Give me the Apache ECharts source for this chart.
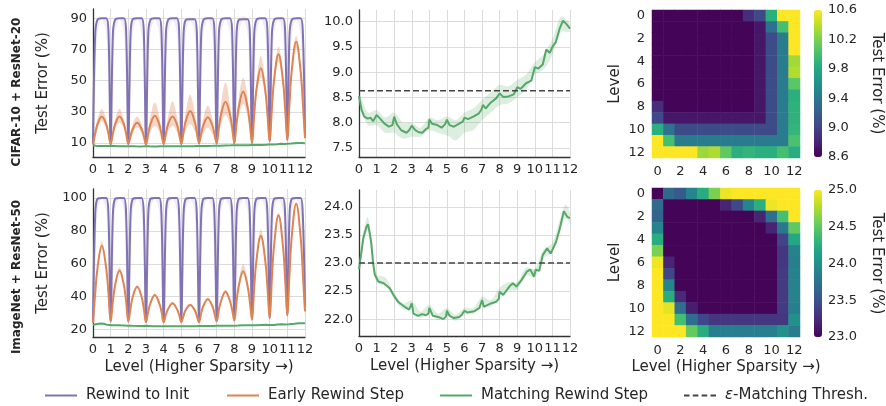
<!DOCTYPE html>
<html>
<head>
<meta charset="utf-8">
<script src="https://cdn.jsdelivr.net/npm/echarts@6/dist/echarts.min.js"></script>
<style>
html, body { margin: 0; padding: 0; background: #fff; }
#main { width: 886px; height: 406px; }
</style>
</head>
<body>
<div id="main"></div>
<script>
// position of the samples inside one level (fraction of a level)
var phase = [0, 0.125, 0.25, 0.5, 0.75, 0.875];
var bandPhase = [0, 0.25, 0.5, 0.75];

// ---- CIFAR-10 + ResNet-20 : one row per level ----
var cifarInit = [
  [10, 80, 89, 90, 90, 82],
  [9, 80, 89, 90, 90, 82],
  [9, 80, 89.5, 90, 90, 82],
  [9, 80, 89, 90, 90, 82],
  [9, 80, 89, 90, 90, 82],
  [9, 80, 89, 89.5, 89.5, 82],
  [9.5, 80, 89, 90, 90, 82],
  [9.5, 80, 89, 90, 90, 82],
  [9.5, 80, 89, 89.5, 89.5, 82],
  [10, 80, 89, 90, 90, 82],
  [11, 80, 89, 90, 90, 82],
  [12, 80, 89, 90, 90, 82]
];
var cifarInitEnd = 15;
var cifarInitLo = [
  [9.5, 45, 80, 89.5, 80, 45], [8.5, 45, 80, 89.5, 80, 45], [8.5, 45, 80, 89.5, 80, 45],
  [8.5, 45, 80, 89.5, 80, 45], [8.5, 45, 80, 89.5, 80, 45], [8.5, 45, 80, 89, 80, 45],
  [9, 45, 80, 89.5, 80, 45], [9, 45, 80, 89.5, 80, 45], [9, 45, 80, 89, 80, 45],
  [9.5, 45, 80, 89.5, 80, 45], [10.5, 45, 80, 89.5, 80, 45], [11.5, 45, 80, 89.5, 80, 45]
];
var cifarInitHi = [
  [10.5, 86, 90, 90.5, 90, 87], [9.5, 86, 90, 90.5, 90, 87], [9.5, 86, 90, 90.5, 90, 87],
  [9.5, 86, 90, 90.5, 90, 87], [9.5, 86, 90, 90.5, 90, 87], [9.5, 86, 90, 90.5, 90, 87],
  [10, 86, 90, 90.5, 90, 87], [10, 86, 90, 90.5, 90, 87], [10, 86, 90, 91.5, 90, 87],
  [10.5, 86, 90, 90.5, 90, 87], [11.5, 86, 90, 90.5, 90, 87], [12.5, 86, 90, 90.5, 90, 87]
];
var cifarInitBandEnd = [14, 16];

var cifarEarly = [
  [9, 16, 22, 27, 22, 16],
  [9.5, 16, 22, 27, 22, 16],
  [9.5, 14.5, 19, 23, 19, 14.5],
  [9, 16, 22, 27.5, 22, 16],
  [9.5, 16, 22, 27, 22, 16],
  [9.5, 17, 24, 30.5, 24, 17],
  [10, 16, 21.5, 26.5, 21.5, 16],
  [10, 20, 28.5, 36.5, 28.5, 20],
  [10, 22.5, 33, 43, 33, 22.5],
  [10, 28, 44, 58, 44, 28],
  [11, 32, 50.5, 67, 50.5, 32],
  [12, 36, 56.5, 75, 56.5, 36]
];
var cifarEarlyEnd = 13;

var cifarEarlyLo = [
  [8.5, 19, 24, 19], [9, 19, 23, 19], [9, 16, 20, 16], [8.5, 17, 21, 17],
  [9, 17, 21, 17], [9, 18, 22, 18], [9.5, 16, 20, 16], [9.5, 22, 28, 22],
  [9.5, 27, 35, 27], [9.5, 39, 52, 39], [10.5, 46, 62, 46], [11.5, 52, 71, 52]
];
var cifarEarlyHi = [
  [9.5, 25, 32, 25], [10, 25, 32, 25], [10, 22, 27, 22], [9.5, 27, 36, 27],
  [10, 27, 37, 27], [10, 30, 41, 30], [10.5, 26, 34, 26], [10.5, 35, 49, 35],
  [10.5, 39, 52, 39], [10.5, 48, 66, 48], [11.5, 53, 72, 53], [12.5, 59, 79, 59]
];
var cifarEarlyBandEnd = [12.5, 13.5];

// matching rewind step: [level, test error]
var cifarMatch = [
  [0, 8.52], [0.15, 8.25], [0.3, 8.12], [0.5, 8.08], [0.65, 8.1], [0.8, 8.03], [1.0, 8.15],
  [1.2, 8.08], [1.45, 7.98], [1.7, 7.92], [1.9, 7.95], [2.0, 8.12], [2.15, 7.97], [2.4, 7.85],
  [2.7, 7.8], [2.85, 7.85], [3.0, 7.94], [3.2, 7.85], [3.4, 7.81], [3.6, 7.8], [3.8, 7.87],
  [3.95, 7.9], [4.0, 8.06], [4.15, 7.98], [4.4, 7.96], [4.7, 7.9], [4.9, 7.97], [5.0, 8.06],
  [5.15, 7.95], [5.4, 7.92], [5.7, 7.98], [5.9, 8.02], [6.0, 8.1], [6.2, 8.07], [6.5, 8.12],
  [6.8, 8.18], [6.95, 8.25], [7.05, 8.35], [7.2, 8.28], [7.5, 8.4], [7.8, 8.48], [8.0, 8.58],
  [8.2, 8.51], [8.5, 8.52], [8.8, 8.56], [9.0, 8.7], [9.2, 8.67], [9.5, 8.78], [9.8, 8.83],
  [10.0, 9.1], [10.2, 9.07], [10.45, 9.15], [10.65, 9.45], [10.85, 9.38], [11.0, 9.5],
  [11.2, 9.6], [11.4, 9.85], [11.6, 10.02], [11.8, 9.95], [12.0, 9.86]
];
// [level, low, high]
var cifarMatchBand = [
  [0, 8.45, 8.6], [0.5, 7.95, 8.2], [1.0, 7.95, 8.25], [1.5, 7.8, 8.1], [2.0, 7.8, 8.2],
  [2.5, 7.68, 8.0], [3.0, 7.72, 8.0], [3.5, 7.72, 7.9], [4.0, 7.85, 8.1], [4.5, 7.8, 8.05],
  [5.0, 7.75, 8.12], [5.5, 7.65, 8.05], [6.0, 7.8, 8.2], [6.5, 7.85, 8.28], [7.0, 8.05, 8.45],
  [7.5, 8.2, 8.6], [8.0, 8.35, 8.75], [8.5, 8.38, 8.72], [9.0, 8.5, 8.85], [9.5, 8.65, 8.95],
  [10.0, 8.95, 9.2], [10.5, 9.05, 9.35], [11.0, 9.35, 9.65], [11.5, 9.8, 10.1], [12.0, 9.8, 9.95]
];
var cifarThresh = 8.63;

// ---- ImageNet + ResNet-50 ----
var imnetInit = [
  [24, 90, 99.5, 100, 100, 90],
  [25, 90, 99.5, 100, 100, 90],
  [25, 90, 99.5, 100, 100, 90],
  [25, 90, 99.5, 100, 100, 90],
  [25, 90, 99.5, 100, 100, 90],
  [26, 90, 99.5, 100, 100, 90],
  [26, 90, 99.5, 100, 100, 90],
  [27, 90, 99.5, 100, 100, 90],
  [27, 90, 99.5, 100, 100, 90],
  [28, 90, 99.5, 100, 100, 90],
  [27, 90, 99.5, 100, 100, 90],
  [29, 90, 99.5, 100, 100, 90]
];
var imnetInitEnd = 34;
var imnetInitLo = [
  [23.5, 55, 92, 99.5, 92, 55], [24.5, 55, 92, 99.5, 92, 55], [24.5, 55, 92, 99.5, 92, 55],
  [24.5, 55, 92, 99.5, 92, 55], [24.5, 55, 92, 99.5, 92, 55], [25.5, 55, 92, 99.5, 92, 55],
  [25.5, 55, 92, 99.5, 92, 55], [26.5, 55, 92, 99.5, 92, 55], [26.5, 55, 92, 99.5, 92, 55],
  [27.5, 55, 92, 99.5, 92, 55], [26.5, 55, 92, 99.5, 92, 55], [28.5, 55, 92, 99.5, 92, 55]
];
var imnetInitHi = [
  [24.5, 95, 100, 100.3, 100, 95], [25.5, 95, 100, 100.3, 100, 95], [25.5, 95, 100, 100.3, 100, 95],
  [25.5, 95, 100, 100.3, 100, 95], [25.5, 95, 100, 100.3, 100, 95], [26.5, 95, 100, 100.3, 100, 95],
  [26.5, 95, 100, 100.3, 100, 95], [27.5, 95, 100, 100.3, 100, 95], [27.5, 95, 100, 100.3, 100, 95],
  [28.5, 95, 100, 100.3, 100, 95], [27.5, 95, 100, 100.3, 100, 95], [29.5, 95, 100, 100.3, 100, 95]
];
var imnetInitBandEnd = [33, 35];

var imnetEarly = [
  [24, 42, 57, 71, 57, 42],
  [25, 37, 47, 56, 47, 37],
  [25, 33, 40, 46, 40, 33],
  [24.5, 31, 36, 41, 36, 31],
  [24.5, 29, 32.5, 36, 32.5, 29],
  [24.5, 28.5, 32, 35, 32, 28.5],
  [24.5, 30, 34.5, 38.5, 34.5, 30],
  [25, 32, 37.5, 43, 37.5, 32],
  [25.5, 37, 46.5, 55.5, 46.5, 37],
  [26, 45.5, 62, 77, 62, 45.5],
  [27, 51, 71, 89.5, 71, 51],
  [28.5, 54.5, 76.5, 96.5, 76.5, 54.5]
];
var imnetEarlyEnd = 31;

var imnetEarlyLo = [
  [23.5, 55.5, 69.5, 55.5], [24.5, 45.5, 55, 45.5], [24.5, 39, 45, 39], [24, 35.5, 40, 35.5],
  [24, 32, 35.3, 32], [24, 31.3, 34.3, 31.3], [24, 33.7, 37.7, 33.7], [24.5, 37, 42, 37],
  [25, 45, 53.5, 45], [25.5, 60.5, 75, 60.5], [26.5, 70, 88, 70], [28, 75.5, 95.5, 75.5]
];
var imnetEarlyHi = [
  [24.5, 59, 74, 59], [25.5, 48, 58, 48], [25.5, 40.5, 47, 40.5], [25, 37, 42, 37],
  [25, 33.2, 36.8, 33.2], [25, 32.5, 35.8, 32.5], [25, 35, 39.5, 35], [25.5, 38.5, 44.5, 38.5],
  [26, 49, 60, 49], [26.5, 64, 81, 64], [27.5, 72.5, 91, 72.5], [29, 77.5, 97.5, 77.5]
];
var imnetEarlyBandEnd = [30.5, 31.5];

var imnetMatch = [
  [0, 22.89], [0.1, 23.11], [0.25, 23.45], [0.42, 23.64], [0.51, 23.69], [0.6, 23.55],
  [0.7, 23.35], [0.8, 23.0], [0.9, 22.79], [1.1, 22.67], [1.4, 22.64], [1.5, 22.67],
  [1.75, 22.55], [2.0, 22.41], [2.25, 22.3], [2.6, 22.22], [2.85, 22.17], [3.0, 22.28],
  [3.1, 22.1], [3.35, 22.06], [3.6, 22.09], [3.8, 22.07], [3.95, 22.1], [4.0, 22.2],
  [4.2, 22.06], [4.5, 22.04], [4.8, 22.0], [4.95, 22.05], [5.0, 22.15], [5.15, 22.06],
  [5.4, 22.02], [5.7, 22.04], [5.85, 22.08], [6.0, 22.15], [6.15, 22.12], [6.55, 22.14],
  [6.85, 22.2], [6.95, 22.22], [7.0, 22.34], [7.1, 22.22], [7.5, 22.28], [7.8, 22.31],
  [7.95, 22.36], [8.0, 22.49], [8.2, 22.43], [8.55, 22.58], [8.75, 22.64], [8.95, 22.58],
  [9.25, 22.7], [9.55, 22.85], [9.75, 22.88], [9.95, 22.76], [10.05, 22.88], [10.25, 22.86],
  [10.45, 23.14], [10.7, 23.26], [10.9, 23.17], [11.1, 23.3], [11.2, 23.37], [11.4, 23.59],
  [11.65, 23.92], [11.85, 23.82], [12.0, 23.8]
];
var imnetMatchBand = [
  [0, 22.82, 22.96], [0.25, 23.35, 23.55], [0.5, 23.58, 23.82], [0.75, 23.1, 23.35],
  [1.0, 22.65, 22.8], [1.5, 22.6, 22.74], [2.0, 22.36, 22.46], [2.5, 22.18, 22.28],
  [3.0, 22.2, 22.33], [3.5, 22.02, 22.13], [4.0, 22.12, 22.26], [4.5, 21.98, 22.1],
  [5.0, 22.07, 22.2], [5.5, 21.97, 22.08], [6.0, 22.09, 22.2], [6.5, 22.09, 22.2],
  [7.0, 22.27, 22.4], [7.5, 22.22, 22.34], [8.0, 22.42, 22.56], [8.5, 22.51, 22.66],
  [9.0, 22.52, 22.66], [9.5, 22.78, 22.92], [10.0, 22.74, 22.9], [10.5, 23.08, 23.24],
  [11.0, 23.2, 23.36], [11.5, 23.62, 23.85], [11.75, 23.8, 24.04], [12.0, 23.72, 23.88]
];
var imnetThresh = 23.0;

// heatmaps: row = level of the mask, col = level rewound to
var cifarHeat = [
  [8.62, 8.62, 8.62, 8.62, 8.62, 8.62, 8.62, 8.62, 8.86, 9.04, 9.86, 10.6, 10.6],
  [8.62, 8.62, 8.62, 8.62, 8.62, 8.62, 8.62, 8.62, 8.62, 8.72, 9.34, 10.0, 10.6],
  [8.62, 8.62, 8.62, 8.62, 8.62, 8.62, 8.62, 8.62, 8.62, 8.72, 9.05, 9.42, 10.6],
  [8.62, 8.62, 8.62, 8.62, 8.62, 8.62, 8.62, 8.62, 8.62, 8.72, 9.05, 9.42, 10.6],
  [8.62, 8.62, 8.62, 8.62, 8.62, 8.62, 8.62, 8.62, 8.62, 8.72, 9.05, 9.42, 10.32],
  [8.62, 8.62, 8.62, 8.62, 8.62, 8.62, 8.62, 8.62, 8.62, 8.72, 9.05, 9.42, 10.36],
  [8.62, 8.62, 8.62, 8.62, 8.62, 8.62, 8.62, 8.62, 8.62, 8.72, 9.05, 9.42, 10.08],
  [8.62, 8.62, 8.62, 8.62, 8.62, 8.62, 8.62, 8.62, 8.62, 8.72, 9.05, 9.42, 9.86],
  [8.86, 8.62, 8.62, 8.62, 8.62, 8.62, 8.62, 8.62, 8.62, 8.72, 9.05, 9.42, 9.88],
  [9.03, 8.72, 8.72, 8.72, 8.72, 8.72, 8.72, 8.72, 8.72, 8.72, 9.05, 9.42, 9.88],
  [9.86, 9.36, 9.05, 9.05, 9.05, 9.05, 9.05, 9.05, 9.05, 9.05, 9.05, 9.42, 9.9],
  [10.6, 10.0, 9.42, 9.42, 9.42, 9.42, 9.42, 9.42, 9.42, 9.42, 9.42, 9.42, 10.02],
  [10.6, 10.6, 10.6, 10.6, 10.3, 10.36, 10.1, 9.86, 9.9, 9.86, 9.86, 10.0, 9.84]
];
var imnetHeat = [
  [23.02, 23.68, 23.56, 23.9, 24.24, 24.6, 24.94, 25, 25, 25, 25, 25, 25],
  [23.7, 23.02, 23.02, 23.02, 23.02, 23.02, 23.2, 23.44, 23.9, 24.26, 24.95, 25, 25],
  [23.64, 23.02, 23.02, 23.02, 23.02, 23.02, 23.02, 23.02, 23.02, 23.2, 23.72, 24.4, 25],
  [23.88, 23.02, 23.02, 23.02, 23.02, 23.02, 23.02, 23.02, 23.02, 23.02, 23.2, 23.8, 24.5],
  [24.24, 23.02, 23.02, 23.02, 23.02, 23.02, 23.02, 23.02, 23.02, 23.02, 23.02, 23.4, 24.2],
  [24.6, 23.02, 23.02, 23.02, 23.02, 23.02, 23.02, 23.02, 23.02, 23.02, 23.02, 23.32, 23.88],
  [24.95, 23.2, 23.02, 23.02, 23.02, 23.02, 23.02, 23.02, 23.02, 23.02, 23.02, 23.32, 23.86],
  [25, 23.42, 23.02, 23.02, 23.02, 23.02, 23.02, 23.02, 23.02, 23.02, 23.02, 23.34, 23.88],
  [25, 23.9, 23.02, 23.02, 23.02, 23.02, 23.02, 23.02, 23.02, 23.02, 23.02, 23.34, 23.88],
  [25, 24.24, 23.24, 23.02, 23.02, 23.02, 23.02, 23.02, 23.02, 23.02, 23.02, 23.34, 23.88],
  [25, 24.92, 23.72, 23.16, 23.02, 23.02, 23.02, 23.02, 23.02, 23.02, 23.02, 23.34, 23.86],
  [25, 25, 24.4, 23.72, 23.42, 23.32, 23.32, 23.32, 23.32, 23.32, 23.32, 23.32, 24.0],
  [25, 25, 25, 24.52, 24.24, 23.84, 23.84, 23.84, 23.84, 23.84, 23.84, 24.0, 23.82]
];

var levelTicks = ['0', '1', '2', '3', '4', '5', '6', '7', '8', '9', '10', '11', '12'];
var cifarTicks = [10, 30, 50, 70, 90];
var cifarZoomTicks = [7.5, 8.0, 8.5, 9.0, 9.5, 10.0];
var cifarBarTicks = [8.6, 9.0, 9.4, 9.8, 10.2, 10.6];
var imnetTicks = [20, 40, 60, 80, 100];
var imnetZoomTicks = [22.0, 22.5, 23.0, 23.5, 24.0];
var imnetBarTicks = [23.0, 23.5, 24.0, 24.5, 25.0];

var viridis = ['#440154', '#482475', '#414487', '#355f8d', '#2a788e', '#21918c',
               '#22a884', '#44bf70', '#7ad151', '#bddf26', '#fde725'];

var PURPLE = '#8172b3', ORANGE = '#dd8452', GREEN = '#55a868';
var FONT = 'DejaVu Sans';
var INK = '#262626';
var XNAME = 'Level (Higher Sparsity \u2192)';

function levelPoints(rows, last, ph) {
  var pts = [];
  rows.forEach(function (row, lv) {
    row.forEach(function (v, i) { pts.push([lv + ph[i], v]); });
  });
  pts.push([rows.length, last]);
  return pts;
}

function curve(name, data, color, ax, smooth) {
  return {
    name: name, type: 'line', xAxisIndex: ax, yAxisIndex: ax, data: data,
    symbol: 'none', smooth: smooth, lineStyle: { color: color, width: 2 },
    itemStyle: { color: color }, z: 3, silent: true
  };
}

// shaded spread between a low and a high curve, drawn as one polygon
function band(lo, hi, color, ax, smooth) {
  return {
    type: 'custom', xAxisIndex: ax, yAxisIndex: ax, silent: true, z: 2, clip: true,
    data: [lo[0]],
    renderItem: function (params, api) {
      var pts = hi.map(function (p) { return api.coord(p); });
      for (var i = lo.length - 1; i >= 0; i--) pts.push(api.coord(lo[i]));
      return { type: 'polygon', shape: { points: pts, smooth: smooth }, style: { fill: color } };
    }
  };
}

function thresh(value, ax) {
  return {
    name: '\u03b5-Matching Thresh.', type: 'line', xAxisIndex: ax, yAxisIndex: ax,
    data: [[0, value], [12, value]], symbol: 'none', silent: true, z: 4,
    lineStyle: { color: '#444', width: 1.5, type: [6, 3] }, itemStyle: { color: '#444' }
  };
}

function cells(matrix) {
  var out = [];
  matrix.forEach(function (row, r) {
    row.forEach(function (v, c) { out.push([c, r, v]); });
  });
  return out;
}

function lineX(ax, named) {
  return {
    type: 'value', gridIndex: ax, min: 0, max: 12, interval: 1,
    axisLine: { show: true, lineStyle: { color: '#333', width: 1.3 } },
    axisTick: { show: false },
    splitLine: { show: true, lineStyle: { color: '#dcdcdc', width: 1 } },
    axisLabel: { color: INK, fontSize: 13, fontFamily: FONT, margin: 6 },
    name: named ? XNAME : '', nameLocation: 'middle', nameGap: 23,
    nameTextStyle: { color: INK, fontSize: 15, fontFamily: FONT }
  };
}

function lineY(ax, min, max, ticks, digits, name) {
  return {
    type: 'value', gridIndex: ax, min: min, max: max,
    axisLine: { show: true, lineStyle: { color: '#333', width: 1.3 } },
    axisTick: { show: false, customValues: ticks },
    splitLine: { show: true, lineStyle: { color: '#dcdcdc', width: 1 } },
    axisLabel: {
      customValues: ticks, color: INK, fontSize: 13, fontFamily: FONT, margin: 6,
      formatter: function (v) { return v.toFixed(digits); }
    },
    name: name || '', nameLocation: 'middle', nameGap: 42,
    nameTextStyle: { color: INK, fontSize: 15, fontFamily: FONT }
  };
}

function heatX(ax, named) {
  return {
    type: 'category', gridIndex: ax, data: levelTicks,
    axisLine: { show: false }, axisTick: { show: false }, splitLine: { show: false },
    axisLabel: { interval: 1, color: INK, fontSize: 13, fontFamily: FONT, margin: 7 },
    name: named ? XNAME : '', nameLocation: 'middle', nameGap: 23,
    nameTextStyle: { color: INK, fontSize: 15, fontFamily: FONT }
  };
}

function heatY(ax) {
  return {
    type: 'category', gridIndex: ax, data: levelTicks, inverse: true,
    axisLine: { show: false }, axisTick: { show: false }, splitLine: { show: false },
    axisLabel: { interval: 1, color: INK, fontSize: 13, fontFamily: FONT, margin: 7 },
    name: 'Level', nameLocation: 'middle', nameGap: 29,
    nameTextStyle: { color: INK, fontSize: 15, fontFamily: FONT }
  };
}

function barX(ax) {
  return { type: 'category', gridIndex: ax, data: [''], show: false };
}

function barY(ax, min, max, ticks) {
  return {
    type: 'value', gridIndex: ax, min: min, max: max, position: 'right',
    axisLine: { show: false }, splitLine: { show: false },
    axisTick: { show: false, customValues: ticks },
    axisLabel: {
      customValues: ticks, color: INK, fontSize: 13, fontFamily: FONT, margin: 6,
      formatter: function (v) { return v.toFixed(1); }
    },
    name: 'Test Error (%)', nameLocation: 'middle', nameGap: 47, nameRotate: -90,
    nameTextStyle: { color: INK, fontSize: 15, fontFamily: FONT }
  };
}

var series = [];
// panel 0 : CIFAR curves
series.push(band(levelPoints(cifarInitLo, cifarInitBandEnd[0], phase),
                 levelPoints(cifarInitHi, cifarInitBandEnd[1], phase), 'rgba(129,114,179,0.13)', 0, 0.3));
series.push(curve('Rewind to Init', levelPoints(cifarInit, cifarInitEnd, phase), PURPLE, 0, 0.35));
series.push(band(levelPoints(cifarEarlyLo, cifarEarlyBandEnd[0], bandPhase),
                 levelPoints(cifarEarlyHi, cifarEarlyBandEnd[1], bandPhase), 'rgba(221,132,82,0.32)', 0, 0.35));
series.push(curve('Early Rewind Step', levelPoints(cifarEarly, cifarEarlyEnd, phase), ORANGE, 0, 0.4));
series.push(curve('Matching Rewind Step', cifarMatch, GREEN, 0, false));
// panel 1 : CIFAR matching zoom
series.push(band(cifarMatchBand.map(function (t) { return [t[0], t[1]]; }),
                 cifarMatchBand.map(function (t) { return [t[0], t[2]]; }), 'rgba(85,168,104,0.2)', 1, 0.3));
series.push(curve('Matching Rewind Step', cifarMatch, GREEN, 1, false));
series.push(thresh(cifarThresh, 1));
// panel 2 : CIFAR heatmap
var cifarHeatIdx = series.length;
series.push({ type: 'heatmap', xAxisIndex: 2, yAxisIndex: 2, data: cells(cifarHeat), silent: true });
// panel 4 : ImageNet curves
series.push(band(levelPoints(imnetInitLo, imnetInitBandEnd[0], phase),
                 levelPoints(imnetInitHi, imnetInitBandEnd[1], phase), 'rgba(129,114,179,0.13)', 4, 0.3));
series.push(curve('Rewind to Init', levelPoints(imnetInit, imnetInitEnd, phase), PURPLE, 4, 0.35));
series.push(band(levelPoints(imnetEarlyLo, imnetEarlyBandEnd[0], bandPhase),
                 levelPoints(imnetEarlyHi, imnetEarlyBandEnd[1], bandPhase), 'rgba(221,132,82,0.32)', 4, 0.35));
series.push(curve('Early Rewind Step', levelPoints(imnetEarly, imnetEarlyEnd, phase), ORANGE, 4, 0.4));
series.push(curve('Matching Rewind Step', imnetMatch, GREEN, 4, false));
// panel 5 : ImageNet matching zoom
series.push(band(imnetMatchBand.map(function (t) { return [t[0], t[1]]; }),
                 imnetMatchBand.map(function (t) { return [t[0], t[2]]; }), 'rgba(85,168,104,0.2)', 5, 0.3));
series.push(curve('Matching Rewind Step', imnetMatch, GREEN, 5, false));
series.push(thresh(imnetThresh, 5));
// panel 6 : ImageNet heatmap
var imnetHeatIdx = series.length;
series.push({ type: 'heatmap', xAxisIndex: 6, yAxisIndex: 6, data: cells(imnetHeat), silent: true });

var solidIcon = 'path://M0,0H32V2H0Z';
var dashIcon = 'path://M0,0H5V2H0Z M8,0H13V2H8Z M16,0H21V2H16Z M24,0H29V2H24Z';

function legendAt(name, left, icon, fmt) {
  var l = {
    data: [{ name: name, icon: icon }], left: left, top: 388, padding: 0,
    itemWidth: 32, itemHeight: 14, itemGap: 0, selectedMode: false,
    textStyle: {
      color: INK, fontSize: 15, fontFamily: FONT, padding: [0, 0, 0, 4],
      rich: { i: { fontStyle: 'italic', fontSize: 15, fontFamily: FONT, color: INK } }
    }
  };
  if (fmt) l.formatter = fmt;
  return l;
}

var option = {
  animation: false,
  backgroundColor: '#fff',
  grid: [
    { left: 93, top: 9, width: 212, height: 148 },
    { left: 359, top: 10, width: 211, height: 147 },
    { left: 652, top: 10, width: 148, height: 148 },
    { left: 814, top: 10, width: 8, height: 147 },
    { left: 93, top: 189, width: 212, height: 148 },
    { left: 359, top: 190, width: 211, height: 146 },
    { left: 652, top: 188, width: 148, height: 149 },
    { left: 814, top: 190, width: 8, height: 147 }
  ],
  xAxis: [lineX(0, false), lineX(1, false), heatX(2, false), barX(3),
          lineX(4, true), lineX(5, true), heatX(6, true), barX(7)],
  yAxis: [
    lineY(0, 1, 96, cifarTicks, 0, 'Test Error (%)'),
    lineY(1, 7.32, 10.23, cifarZoomTicks, 1),
    heatY(2),
    barY(3, 8.6, 10.6, cifarBarTicks),
    lineY(4, 15.5, 105.5, imnetTicks, 0, 'Test Error (%)'),
    lineY(5, 21.7, 24.3, imnetZoomTicks, 1),
    heatY(6),
    barY(7, 23, 25, imnetBarTicks)
  ],
  visualMap: [
    { type: 'continuous', seriesIndex: cifarHeatIdx, min: 8.6, max: 10.6, inRange: { color: viridis },
      show: true, calculable: false, hoverLink: false, left: 814, top: 10, itemWidth: 8, itemHeight: 147, padding: 0, text: null },
    { type: 'continuous', seriesIndex: imnetHeatIdx, min: 23, max: 25, inRange: { color: viridis },
      show: true, calculable: false, hoverLink: false, left: 814, top: 190, itemWidth: 8, itemHeight: 147, padding: 0, text: null }
  ],
  legend: [
    legendAt('Rewind to Init', 45, solidIcon),
    legendAt('Early Rewind Step', 227, solidIcon),
    legendAt('Matching Rewind Step', 440, solidIcon),
    legendAt('\u03b5-Matching Thresh.', 684, dashIcon, function () { return '{i|\u03b5}-Matching Thresh.'; })
  ],
  graphic: [
    { type: 'text', x: 17, y: 92, rotation: Math.PI / 2,
      style: { text: 'CIFAR-10 + ResNet-20', fontSize: 12, fontWeight: 'bold', fontFamily: FONT, fill: INK, align: 'center', verticalAlign: 'middle' } },
    { type: 'text', x: 17, y: 277, rotation: Math.PI / 2,
      style: { text: 'ImageNet + ResNet-50', fontSize: 12, fontWeight: 'bold', fontFamily: FONT, fill: INK, align: 'center', verticalAlign: 'middle' } }
  ],
  series: series
};

var chart = echarts.init(document.getElementById('main'));
chart.setOption(option);
window.addEventListener('resize', function () { chart.resize(); });
</script>
</body>
</html>
